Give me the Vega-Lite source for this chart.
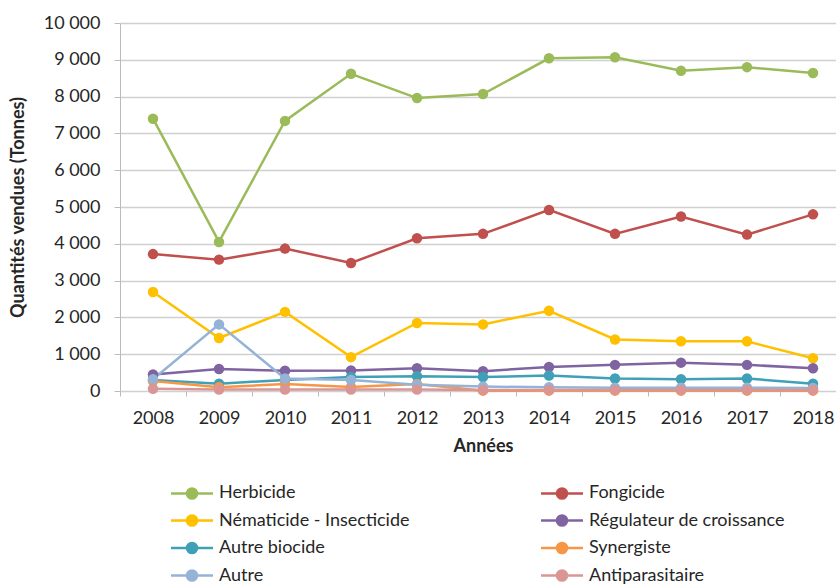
{
  "$schema": "https://vega.github.io/schema/vega-lite/v6.json",
  "width": 716,
  "height": 368,
  "autosize": {"type": "none"},
  "padding": {"left": 120, "top": 23, "right": 0, "bottom": 196},
  "background": "white",
  "config": {
    "font": "Lato",
    "view": {"stroke": null},
    "locale": {"number": {"decimal": ",", "thousands": " ", "grouping": [3], "currency": ["", " €"]}}
  },
  "data": {
    "values": [
      {"annee": "2008", "type": "Herbicide", "valeur": 7400},
      {"annee": "2009", "type": "Herbicide", "valeur": 4050},
      {"annee": "2010", "type": "Herbicide", "valeur": 7340},
      {"annee": "2011", "type": "Herbicide", "valeur": 8620},
      {"annee": "2012", "type": "Herbicide", "valeur": 7960},
      {"annee": "2013", "type": "Herbicide", "valeur": 8070},
      {"annee": "2014", "type": "Herbicide", "valeur": 9040},
      {"annee": "2015", "type": "Herbicide", "valeur": 9070},
      {"annee": "2016", "type": "Herbicide", "valeur": 8700},
      {"annee": "2017", "type": "Herbicide", "valeur": 8800},
      {"annee": "2018", "type": "Herbicide", "valeur": 8640},
      {"annee": "2008", "type": "Fongicide", "valeur": 3720},
      {"annee": "2009", "type": "Fongicide", "valeur": 3570},
      {"annee": "2010", "type": "Fongicide", "valeur": 3870},
      {"annee": "2011", "type": "Fongicide", "valeur": 3480},
      {"annee": "2012", "type": "Fongicide", "valeur": 4150},
      {"annee": "2013", "type": "Fongicide", "valeur": 4270},
      {"annee": "2014", "type": "Fongicide", "valeur": 4920},
      {"annee": "2015", "type": "Fongicide", "valeur": 4270},
      {"annee": "2016", "type": "Fongicide", "valeur": 4740},
      {"annee": "2017", "type": "Fongicide", "valeur": 4250},
      {"annee": "2018", "type": "Fongicide", "valeur": 4800},
      {"annee": "2008", "type": "Nématicide - Insecticide", "valeur": 2690},
      {"annee": "2009", "type": "Nématicide - Insecticide", "valeur": 1440},
      {"annee": "2010", "type": "Nématicide - Insecticide", "valeur": 2150},
      {"annee": "2011", "type": "Nématicide - Insecticide", "valeur": 920},
      {"annee": "2012", "type": "Nématicide - Insecticide", "valeur": 1850},
      {"annee": "2013", "type": "Nématicide - Insecticide", "valeur": 1810},
      {"annee": "2014", "type": "Nématicide - Insecticide", "valeur": 2180},
      {"annee": "2015", "type": "Nématicide - Insecticide", "valeur": 1400},
      {"annee": "2016", "type": "Nématicide - Insecticide", "valeur": 1350},
      {"annee": "2017", "type": "Nématicide - Insecticide", "valeur": 1350},
      {"annee": "2018", "type": "Nématicide - Insecticide", "valeur": 890},
      {"annee": "2008", "type": "Régulateur de croissance", "valeur": 450},
      {"annee": "2009", "type": "Régulateur de croissance", "valeur": 600},
      {"annee": "2010", "type": "Régulateur de croissance", "valeur": 550},
      {"annee": "2011", "type": "Régulateur de croissance", "valeur": 560},
      {"annee": "2012", "type": "Régulateur de croissance", "valeur": 620},
      {"annee": "2013", "type": "Régulateur de croissance", "valeur": 540},
      {"annee": "2014", "type": "Régulateur de croissance", "valeur": 650},
      {"annee": "2015", "type": "Régulateur de croissance", "valeur": 710},
      {"annee": "2016", "type": "Régulateur de croissance", "valeur": 770},
      {"annee": "2017", "type": "Régulateur de croissance", "valeur": 710},
      {"annee": "2018", "type": "Régulateur de croissance", "valeur": 620},
      {"annee": "2008", "type": "Autre biocide", "valeur": 300},
      {"annee": "2009", "type": "Autre biocide", "valeur": 200},
      {"annee": "2010", "type": "Autre biocide", "valeur": 300},
      {"annee": "2011", "type": "Autre biocide", "valeur": 380},
      {"annee": "2012", "type": "Autre biocide", "valeur": 400},
      {"annee": "2013", "type": "Autre biocide", "valeur": 380},
      {"annee": "2014", "type": "Autre biocide", "valeur": 420},
      {"annee": "2015", "type": "Autre biocide", "valeur": 340},
      {"annee": "2016", "type": "Autre biocide", "valeur": 320},
      {"annee": "2017", "type": "Autre biocide", "valeur": 340},
      {"annee": "2018", "type": "Autre biocide", "valeur": 200},
      {"annee": "2008", "type": "Synergiste", "valeur": 270},
      {"annee": "2009", "type": "Synergiste", "valeur": 100},
      {"annee": "2010", "type": "Synergiste", "valeur": 190},
      {"annee": "2011", "type": "Synergiste", "valeur": 110},
      {"annee": "2012", "type": "Synergiste", "valeur": 190},
      {"annee": "2013", "type": "Synergiste", "valeur": 10},
      {"annee": "2014", "type": "Synergiste", "valeur": 10},
      {"annee": "2015", "type": "Synergiste", "valeur": 10},
      {"annee": "2016", "type": "Synergiste", "valeur": 10},
      {"annee": "2017", "type": "Synergiste", "valeur": 10},
      {"annee": "2018", "type": "Synergiste", "valeur": 10},
      {"annee": "2008", "type": "Autre", "valeur": 320},
      {"annee": "2009", "type": "Autre", "valeur": 1810},
      {"annee": "2010", "type": "Autre", "valeur": 340},
      {"annee": "2011", "type": "Autre", "valeur": 300},
      {"annee": "2012", "type": "Autre", "valeur": 170},
      {"annee": "2013", "type": "Autre", "valeur": 120},
      {"annee": "2014", "type": "Autre", "valeur": 100},
      {"annee": "2015", "type": "Autre", "valeur": 90},
      {"annee": "2016", "type": "Autre", "valeur": 90},
      {"annee": "2017", "type": "Autre", "valeur": 90},
      {"annee": "2018", "type": "Autre", "valeur": 80},
      {"annee": "2008", "type": "Antiparasitaire", "valeur": 60},
      {"annee": "2009", "type": "Antiparasitaire", "valeur": 40},
      {"annee": "2010", "type": "Antiparasitaire", "valeur": 40},
      {"annee": "2011", "type": "Antiparasitaire", "valeur": 40},
      {"annee": "2012", "type": "Antiparasitaire", "valeur": 40},
      {"annee": "2013", "type": "Antiparasitaire", "valeur": 30},
      {"annee": "2014", "type": "Antiparasitaire", "valeur": 30},
      {"annee": "2015", "type": "Antiparasitaire", "valeur": 30},
      {"annee": "2016", "type": "Antiparasitaire", "valeur": 30},
      {"annee": "2017", "type": "Antiparasitaire", "valeur": 30},
      {"annee": "2018", "type": "Antiparasitaire", "valeur": 30}
    ]
  },
  "encoding": {
    "x": {
      "field": "annee",
      "type": "ordinal",
      "scale": {"type": "band", "paddingInner": 0, "paddingOuter": 0, "range": [0, 726]},
      "axis": {
        "title": "Années",
        "titleFontSize": 18,
        "titleFontWeight": "bold",
        "titleColor": "#262626",
        "titlePadding": 10,
        "labelAngle": 0,
        "labelFontSize": 18,
        "labelColor": "#262626",
        "labelPadding": 13,
        "tickBand": "extent",
        "tickSize": 5,
        "tickColor": "#bbb",
        "domain": false,
        "grid": false
      }
    },
    "y": {
      "field": "valeur",
      "type": "quantitative",
      "scale": {"domain": [0, 10000], "nice": false},
      "axis": {
        "title": "Quantités vendues (Tonnes)",
        "titleFontSize": 18,
        "titleFontWeight": "bold",
        "titleColor": "#262626",
        "titlePadding": 16,
        "format": ",d",
        "values": [0, 1000, 2000, 3000, 4000, 5000, 6000, 7000, 8000, 9000, 10000],
        "labelOverlap": false,
        "labelFontSize": 18,
        "labelColor": "#262626",
        "labelPadding": 14,
        "tickSize": 6,
        "tickColor": "#bbb",
        "domainColor": "#bbb",
        "gridColor": "#d0d0d0",
        "gridWidth": 1.5
      }
    },
    "color": {
      "field": "type",
      "type": "nominal",
      "scale": {
        "domain": ["Herbicide", "Nématicide - Insecticide", "Autre biocide", "Autre", "Fongicide", "Régulateur de croissance", "Synergiste", "Antiparasitaire"],
        "range": ["#9BBB59", "#FFC000", "#3FA0B8", "#95B3D7", "#C0504D", "#8064A2", "#F79646", "#D99694"]
      },
      "legend": {
        "title": null,
        "orient": "none",
        "legendX": 60,
        "legendY": 458,
        "columns": 2,
        "columnPadding": 126,
        "rowPadding": 4.5,
        "labelFontSize": 18,
        "labelColor": "#262626",
        "labelOffset": 15,
        "labelLimit": 400,
        "symbolType": "M-2,0L2,0M-0.48,0A0.48,0.48,0,1,1,0.48,0A0.48,0.48,0,1,1,-0.48,0Z",
        "symbolSize": 441,
        "symbolStrokeWidth": 2.5,
        "encode": {
          "symbols": {
            "update": {
              "fill": {"scale": "color", "field": "value"},
              "stroke": {"scale": "color", "field": "value"},
              "opacity": {"value": 1}
            }
          }
        }
      }
    }
  },
  "layer": [
    {"mark": {"type": "line", "strokeWidth": 2.5}},
    {"mark": {"type": "point", "filled": true, "size": 110, "opacity": 1}}
  ]
}
